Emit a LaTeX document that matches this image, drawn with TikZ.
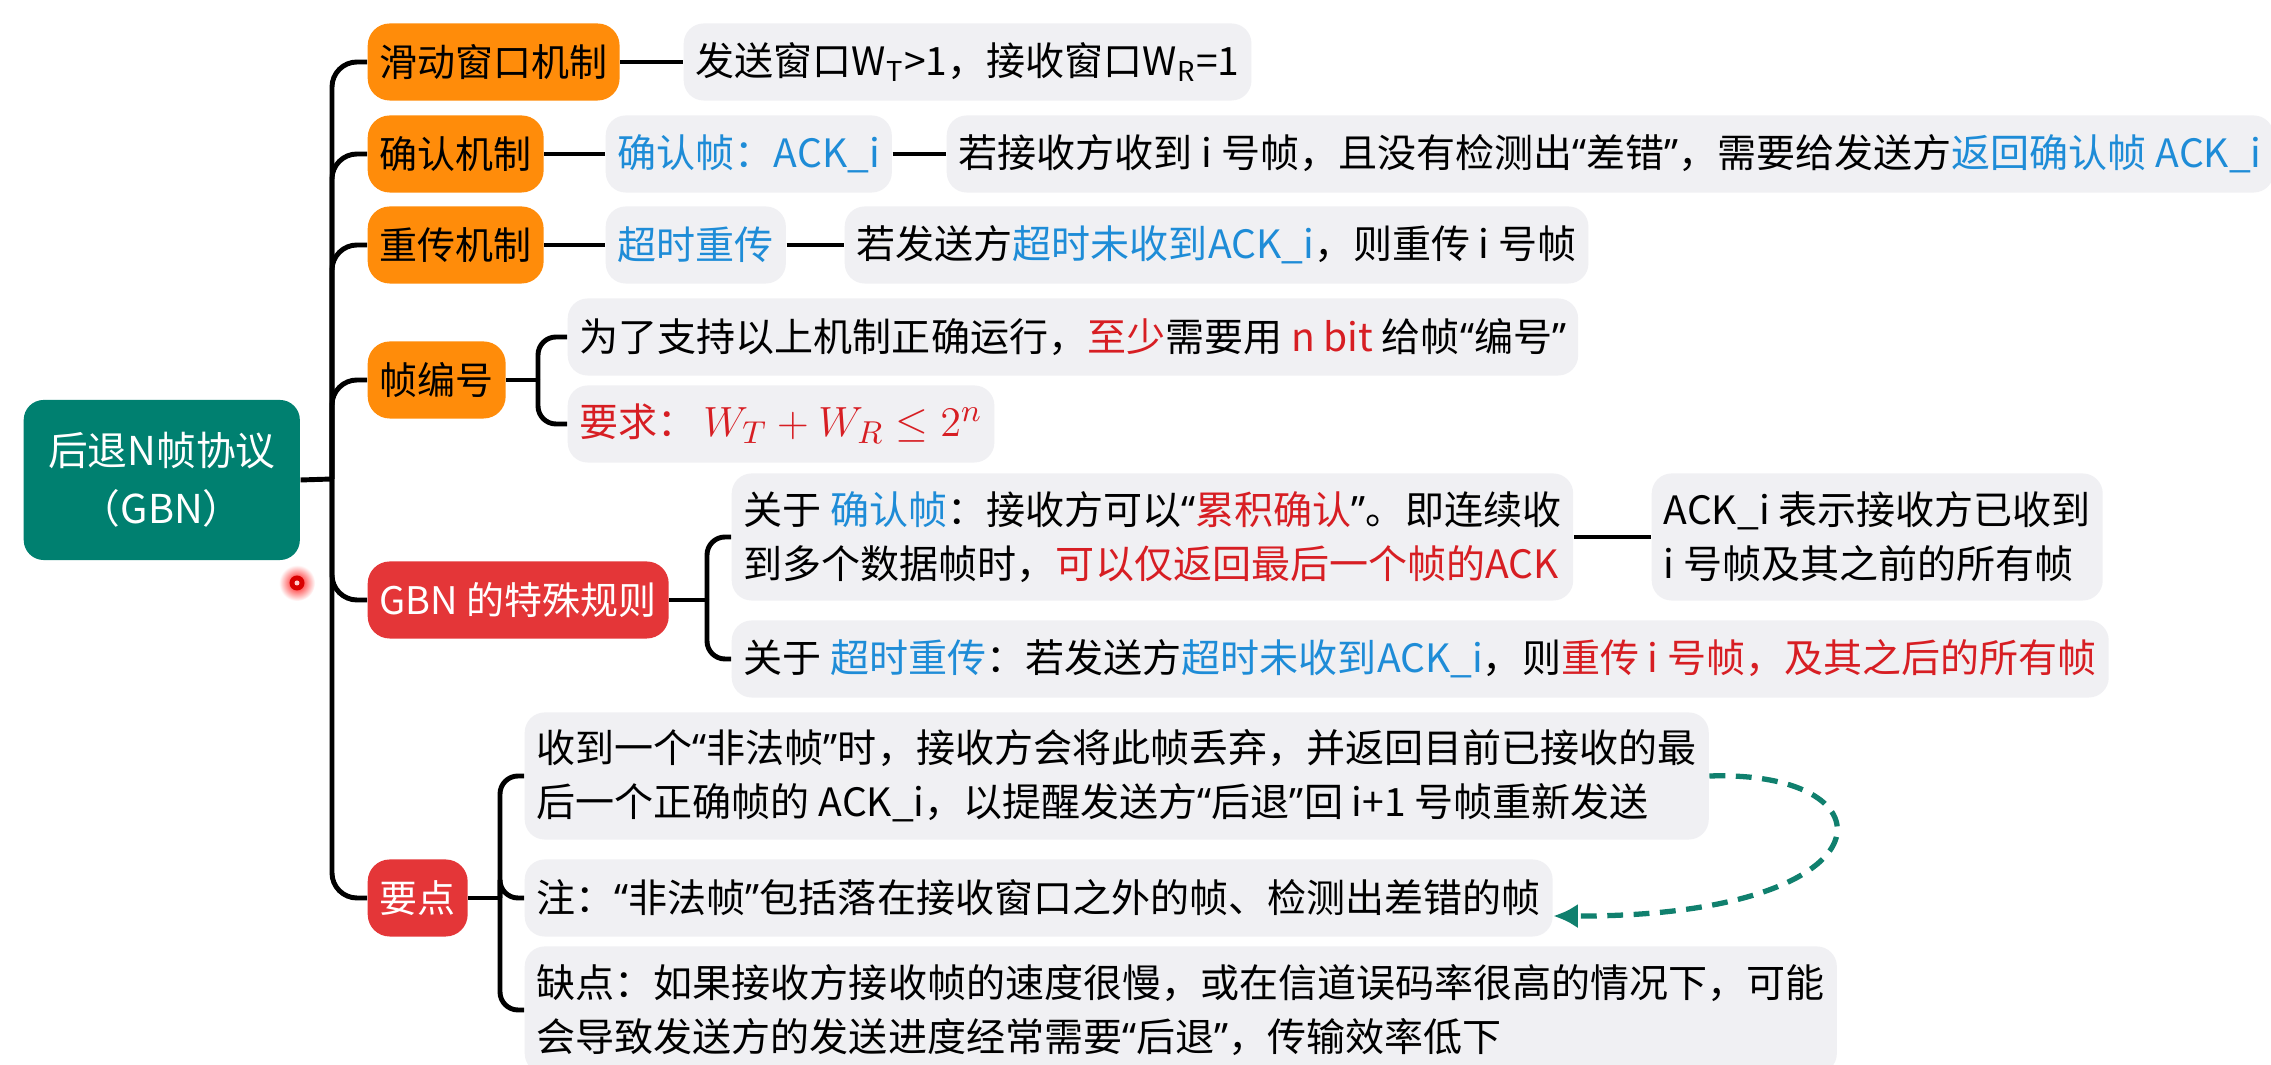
\documentclass[tikz,border=0pt]{standalone}
\usepackage{fontspec}
\setmainfont{Noto Sans CJK SC}
\newfontfamily\qtfont{Noto Sans}
\usetikzlibrary{arrows.meta}
\definecolor{mmorange}{RGB}{255,140,10}
\definecolor{mmteal}{RGB}{0,128,112}
\definecolor{mmred}{RGB}{228,54,56}
\definecolor{mmgray}{RGB}{240,240,243}
\definecolor{txtblue}{RGB}{30,140,215}
\definecolor{txtred}{RGB}{215,30,35}
\definecolor{arrteal}{RGB}{16,128,110}
\newcommand{\hb}[1]{\textcolor{txtblue}{#1}}
\newcommand{\hr}[1]{\textcolor{txtred}{#1}}
\newcommand{\oq}{{\qtfont “}}
\newcommand{\cq}{{\qtfont ”}}

\begin{document}
\begin{tikzpicture}[x=0.01cm, y=-0.01cm, font=\fontsize{10.8pt}{15.4pt}\selectfont,
    rootbox/.style={fill=mmteal, text=white, rounded corners=0.2cm, align=center, minimum width=2.76cm, minimum height=1.6cm, anchor=west, font=\fontsize{11.3pt}{16.4pt}\selectfont},
    topicbox/.style={fill=mmorange, rounded corners=0.22cm, minimum height=0.77cm, inner xsep=0.12cm, anchor=west},
    alertbox/.style={topicbox, fill=mmred, text=white},
    leafbox/.style={fill=mmgray, rounded corners=0.2cm, minimum height=0.77cm, inner xsep=0.12cm, anchor=west, align=left, font=\fontsize{11.1pt}{15.4pt}\selectfont},
    tallbox/.style={leafbox, minimum height=1.27cm},
    link/.style={line width=1.4pt, rounded corners=0.25cm},
    brace/.style={line width=1.4pt, rounded corners=0.18cm}]
  \fill[white] (0,0) rectangle (2271,1065);
  \useasboundingbox (0,0) rectangle (2271,1065);

  \node[rootbox] (root) at (23,480) {后退N帧协议\\（GBN）};

  % first level
  \node[topicbox] (s1) at (367,62)  {滑动窗口机制};
  \node[topicbox] (s2) at (367,154) {确认机制};
  \node[topicbox] (s3) at (367,245) {重传机制};
  \node[topicbox] (s4) at (367,380) {帧编号};
  \node[alertbox] (s5) at (367,600) {GBN 的特殊规则};
  \node[alertbox] (s6) at (367,898) {要点};

  \coordinate (tk) at (332,479);
  \draw[link] (root.east) -- (tk);
  \foreach \i in {1,...,6} \draw[link] (tk) |- (s\i.west);

  % leaves
  \node[leafbox] (d1) at (683,62) {发送窗口W\textsubscript{T}>1，接收窗口W\textsubscript{R}=1};
  \node[leafbox] (d2) at (605,154) {\hb{确认帧：ACK\_i}};
  \node[leafbox] (d2b) at (946,154) {若接收方收到 i 号帧，且没有检测出\oq 差错\cq ，需要给发送方\hb{返回确认帧 ACK\_i}};
  \node[leafbox] (d3) at (605,245) {\hb{超时重传}};
  \node[leafbox] (d3b) at (844,245) {若发送方\hb{超时未收到ACK\_i}，则重传 i 号帧};
  \node[leafbox] (d4a) at (567,337) {为了支持以上机制正确运行，\hr{至少}需要用 \hr{n bit} 给帧\oq 编号\cq};
  \node[leafbox] (d4b) at (567,424) {\hr{要求：\,\fontsize{12.8pt}{15pt}\selectfont$W_T+W_R\le 2^n$}};
  \node[tallbox] (d5a) at (731,537) {关于 \hb{确认帧}：接收方可以\oq\hr{累积确认}\cq。即连续收\\到多个数据帧时，\hr{可以仅返回最后一个帧的ACK}};
  \node[tallbox] (d5c) at (1651,537) {ACK\_i 表示接收方已收到\\i 号帧及其之前的所有帧};
  \node[leafbox] (d5b) at (731,659) {关于 \hb{超时重传}：若发送方\hb{超时未收到ACK\_i}，则\hr{重传 i 号帧，及其之后的所有帧}};
  \node[tallbox] (d6a) at (524,776) {收到一个\oq 非法帧\cq 时，接收方会将此帧丢弃，并返回目前已接收的最\\后一个正确帧的 ACK\_i，以提醒发送方\oq 后退\cq 回 i+1 号帧重新发送};
  \node[leafbox] (d6b) at (524,898) {注：\oq 非法帧\cq 包括落在接收窗口之外的帧、检测出差错的帧};
  \node[tallbox] (d6c) at (524,1010) {缺点：如果接收方接收帧的速度很慢，或在信道误码率很高的情况下，可能\\会导致发送方的发送进度经常需要\oq 后退\cq，传输效率低下};

  \draw[link] (s1.east) -- (d1.west);
  \draw[link] (s2.east) -- (d2.west);
  \draw[link] (d2.east) -- (d2b.west);
  \draw[link] (s3.east) -- (d3.west);
  \draw[link] (d3.east) -- (d3b.west);
  \draw[link] (d5a.east) -- (d5c.west);

  \coordinate (b4) at (538,380);
  \draw[brace] (s4.east) -- (b4);
  \foreach \n in {d4a,d4b} \draw[brace] (b4) |- (\n.west);
  \coordinate (b5) at (707,600);
  \draw[brace] (s5.east) -- (b5);
  \foreach \n in {d5a,d5b} \draw[brace] (b5) |- (\n.west);
  \coordinate (b6) at (500,898);
  \draw[brace] (s6.east) -- (b6);
  \foreach \n in {d6a,d6b,d6c} \draw[brace] (b6) |- (\n.west);

  \draw[line width=1.5pt, arrteal, dash pattern=on 4.5pt off 3pt, -{Latex[length=7pt,width=7pt]}]
    (d6a.east) .. controls (1900,770) and (1895,917) .. ([yshift=-0.18cm]d6b.east);

  % pointer dot
  \shade[inner color=red, outer color=white] (297,583) circle (0.18cm);
  \fill[red!85!black] (297,583) circle (0.075cm);
  \fill[red!20] (297,583) circle (0.025cm);
\end{tikzpicture}
\end{document}
